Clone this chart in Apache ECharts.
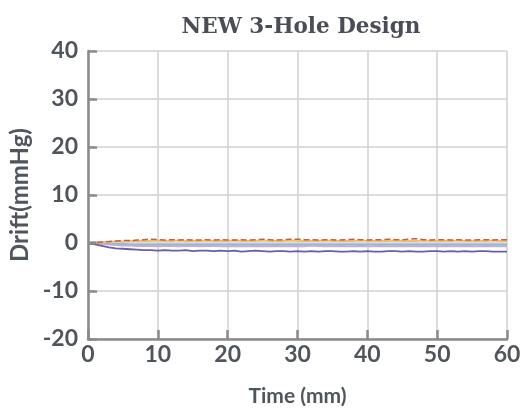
<!DOCTYPE html>
<html><head><meta charset="utf-8">
<script src="https://cdn.jsdelivr.net/npm/echarts@6/dist/echarts.min.js"></script>
<style>html,body{margin:0;padding:0;background:#fff}#c{width:531px;height:409px}</style>
</head><body><div id="c"></div>
<script>
const times = [0,1,2,3,4,5,6,7,8,9,10,11,12,13,14,15,16,17,18,19,20,21,22,23,24,25,26,27,28,29,30,31,32,33,34,35,36,37,38,39,40,41,42,43,44,45,46,47,48,49,50,51,52,53,54,55,56,57,58,59,60];
const xTicks = [0,10,20,30,40,50,60];
const yTicks = [-20,-10,0,10,20,30,40];
const sensorRed =    [0,0.1,0.2,0.3,0.4,0.5,0.5,0.6,0.7,0.8,0.7,0.6,0.7,0.6,0.7,0.6,0.6,0.7,0.6,0.7,0.6,0.6,0.7,0.6,0.7,0.8,0.7,0.6,0.7,0.8,0.8,0.7,0.7,0.6,0.7,0.7,0.6,0.7,0.8,0.7,0.6,0.7,0.7,0.8,0.7,0.7,0.8,0.9,0.7,0.6,0.7,0.7,0.6,0.7,0.6,0.6,0.7,0.7,0.6,0.7,0.7];
const sensorOrange = [0,0.1,0.2,0.2,0.3,0.3,0.4,0.4,0.4,0.4,0.5,0.4,0.4,0.5,0.4,0.4,0.4,0.5,0.4,0.4,0.4,0.5,0.4,0.4,0.4,0.5,0.4,0.4,0.4,0.5,0.4,0.4,0.4,0.4,0.5,0.4,0.4,0.4,0.4,0.5,0.4,0.4,0.4,0.4,0.5,0.4,0.4,0.4,0.5,0.4,0.4,0.4,0.4,0.5,0.4,0.4,0.4,0.4,0.5,0.4,0.4];
const sensorBlue =   [0,-0.1,-0.1,-0.2,-0.2,-0.2,-0.3,-0.3,-0.3,-0.3,-0.3,-0.3,-0.3,-0.3,-0.3,-0.3,-0.3,-0.3,-0.3,-0.3,-0.3,-0.3,-0.3,-0.3,-0.3,-0.3,-0.3,-0.3,-0.3,-0.3,-0.3,-0.3,-0.3,-0.3,-0.3,-0.3,-0.3,-0.3,-0.3,-0.3,-0.3,-0.3,-0.3,-0.3,-0.3,-0.3,-0.3,-0.3,-0.3,-0.3,-0.3,-0.3,-0.3,-0.3,-0.3,-0.3,-0.3,-0.3,-0.3,-0.3,-0.3];
const sensorLavender=[0,-0.1,-0.2,-0.3,-0.4,-0.5,-0.5,-0.6,-0.6,-0.6,-0.7,-0.6,-0.6,-0.7,-0.6,-0.6,-0.7,-0.6,-0.6,-0.7,-0.7,-0.6,-0.7,-0.7,-0.6,-0.7,-0.7,-0.6,-0.7,-0.7,-0.6,-0.7,-0.5,-0.6,-0.7,-0.7,-0.6,-0.7,-0.7,-0.6,-0.7,-0.7,-0.6,-0.7,-0.7,-0.6,-0.7,-0.7,-0.6,-0.7,-0.7,-0.6,-0.7,-0.7,-0.6,-0.7,-0.7,-0.6,-0.7,-0.7,-0.7];
const sensorPurple = [0,-0.3,-0.6,-0.9,-1.1,-1.2,-1.3,-1.4,-1.5,-1.5,-1.6,-1.5,-1.6,-1.6,-1.5,-1.7,-1.6,-1.6,-1.7,-1.6,-1.7,-1.6,-1.8,-1.7,-1.6,-1.7,-1.8,-1.7,-1.7,-1.8,-1.7,-1.8,-1.7,-1.8,-1.7,-1.7,-1.8,-1.8,-1.7,-1.8,-1.7,-1.8,-1.8,-1.7,-1.7,-1.8,-1.7,-1.8,-1.8,-1.7,-1.7,-1.8,-1.7,-1.8,-1.7,-1.8,-1.7,-1.7,-1.8,-1.8,-1.8];
const startSeg = [0,0];
const startTimes = [0,1.2];

const chart = echarts.init(document.getElementById('c'));
const mk = (name, xs, arr, color, w, type) => ({
  name, type:'line', data: xs.map((t,i)=>[t,arr[i]]), showSymbol:false, symbol:'none',
  lineStyle:{color, width:w, type:type||'solid'}, silent:true, animation:false
});
const labelFont = {fontFamily:'Lato', fontWeight:'bold', fontSize:23, color:'#50545c'};
chart.setOption({
  animation:false,
  title:{text:'NEW 3-Hole Design', left:296, top:11, textAlign:'center',
    textStyle:{fontFamily:'DejaVu Serif', fontWeight:'bold', fontSize:21.5, color:'#4a4d55'}},
  grid:{left:88, right:24, top:51, bottom:70, containLabel:false, outerBoundsMode:'none'},
  xAxis:{type:'value', min:0, max:60, interval:10,
    name:'Time (mm)', nameLocation:'middle', nameGap:47,
    nameTextStyle:{fontFamily:'Lato', fontWeight:'bold', fontSize:21, color:'#50545c'},
    axisLine:{show:true, onZero:false, lineStyle:{color:'#8a8a8a', width:2.5}},
    axisTick:{show:true, inside:true, length:9, lineStyle:{color:'#8a8a8a', width:2.5}},
    axisLabel:Object.assign({margin:4}, labelFont),
    splitLine:{show:true, lineStyle:{color:'#d0d0d0', width:1.5}}},
  yAxis:{type:'value', min:-20, max:40, interval:10,
    name:'Drift(mmHg)', nameLocation:'middle', nameGap:48, nameRotate:90,
    nameTextStyle:{fontFamily:'Lato', fontWeight:'bold', fontSize:24, color:'#50545c'},
    axisLine:{show:true, onZero:false, lineStyle:{color:'#8a8a8a', width:2.5}},
    axisTick:{show:true, inside:true, length:9, lineStyle:{color:'#8a8a8a', width:2.5}},
    axisLabel:Object.assign({margin:10}, labelFont),
    splitLine:{show:true, lineStyle:{color:'#d0d0d0', width:1.5}}},
  series:[
    mk('blue', times, sensorBlue, '#9ab4d0', 2),
    mk('lavender', times, sensorLavender, '#b7b2d6', 2),
    mk('orange', times, sensorOrange, '#f0c070', 2),
    mk('red', times, sensorRed, '#c0604a', 1.5, 'dashed'),
    mk('purple', times, sensorPurple, '#6a5ea8', 1.8),
    mk('start', startTimes, startSeg, '#8a8a8a', 3)
  ]
});
</script></body></html>
